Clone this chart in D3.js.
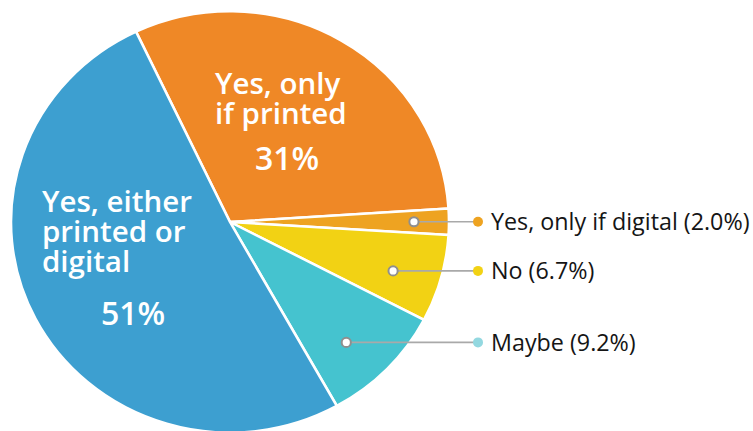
<!DOCTYPE html>
<html>
<head>
<meta charset="utf-8">
<script src="https://cdn.jsdelivr.net/npm/d3@7"></script>
<style>
  body { margin: 0; background: #fff; }
  svg { display: block; }
</style>
</head>
<body>
<div id="chart"></div>
<script>
// slice data, clockwise from the top-left boundary
var categories = ["Yes, only if printed", "Yes, only if digital", "No", "Maybe", "Yes, either printed or digital"];
var shares = [31, 2.0, 6.7, 9.2, 51];
var sliceColors = ["#ef8826", "#eea321", "#f2d214", "#45c3cf", "#3d9fd0"];
var dotColors = ["#ef8826", "#eea321", "#f2d214", "#93d8e0", "#3d9fd0"];

// outside callouts (index into categories)
var calloutIdx = [1, 2, 3];
var calloutText = ["Yes, only if digital (2.0%)", "No (6.7%)", "Maybe (9.2%)"];
var calloutFrac = [0.84, 0.78, 0.78];

var width = 753, height = 431;
var cx = 230, cy = 222, rx = 219, ySquash = 0.962;

var svg = d3.select("#chart").append("svg")
    .attr("width", width)
    .attr("height", height);

var startA = -25.4 * Math.PI / 180;
var pie = d3.pie().sort(null).startAngle(startA).endAngle(startA + 2 * Math.PI);
var arcs = pie(shares);
var arc = d3.arc().innerRadius(0).outerRadius(rx);

var g = svg.append("g")
    .attr("transform", "translate(" + cx + "," + cy + ") scale(1," + ySquash + ")");

g.selectAll("path")
    .data(arcs)
    .enter().append("path")
    .attr("d", arc)
    .attr("fill", function (d, i) { return sliceColors[i]; })
    .attr("stroke", "#fff")
    .attr("stroke-width", 2.6)
    .attr("stroke-linejoin", "round");

// callouts on the right
var dotX = 478, textX = 491;
calloutIdx.forEach(function (idx, k) {
  var a = arcs[idx];
  var mid = (a.startAngle + a.endAngle) / 2 + (k === 1 ? 0.03 : k === 2 ? 0.05 : 0);
  var r = rx * calloutFrac[k];
  var px = cx + r * Math.sin(mid);
  var py = cy - r * Math.cos(mid) * ySquash;

  svg.append("line")
      .attr("x1", px).attr("y1", py)
      .attr("x2", dotX).attr("y2", py)
      .attr("stroke", "#a9a9a9")
      .attr("stroke-width", 1.6);
  svg.append("circle")
      .attr("cx", px).attr("cy", py).attr("r", 4.6)
      .attr("fill", "#fff")
      .attr("stroke", "#8f8f8f")
      .attr("stroke-width", 2);
  svg.append("circle")
      .attr("cx", dotX).attr("cy", py).attr("r", 5)
      .attr("fill", dotColors[idx]);
  svg.append("text")
      .attr("x", textX).attr("y", py)
      .attr("dy", "0.36em")
      .style("font-family", "'Open Sans', sans-serif")
      .style("font-size", "23.3px")
      .style("fill", "#151515")
      .text(calloutText[k]);
});

// labels inside the two big slices
function inside(lines, x, y, pct, px, py) {
  svg.selectAll(null)
      .data(lines)
      .enter().append("text")
      .attr("x", x)
      .attr("y", function (d, i) { return y + i * 30; })
      .style("font-family", "'Open Sans', sans-serif")
      .style("font-weight", "600")
      .style("font-size", "29.5px")
      .style("fill", "#fff")
      .text(function (d) { return d; });
  svg.append("text")
      .attr("x", px).attr("y", py)
      .attr("text-anchor", "middle")
      .style("font-family", "'Open Sans', sans-serif")
      .style("font-weight", "600")
      .style("font-size", "32px")
      .style("fill", "#fff")
      .text(pct);
}

inside(["Yes, only", "if printed"], 215, 94, Math.round(shares[0]) + "%", 287, 170);
inside(["Yes, either", "printed or", "digital"], 42, 212, Math.round(shares[4]) + "%", 133, 325);
</script>
</body>
</html>
